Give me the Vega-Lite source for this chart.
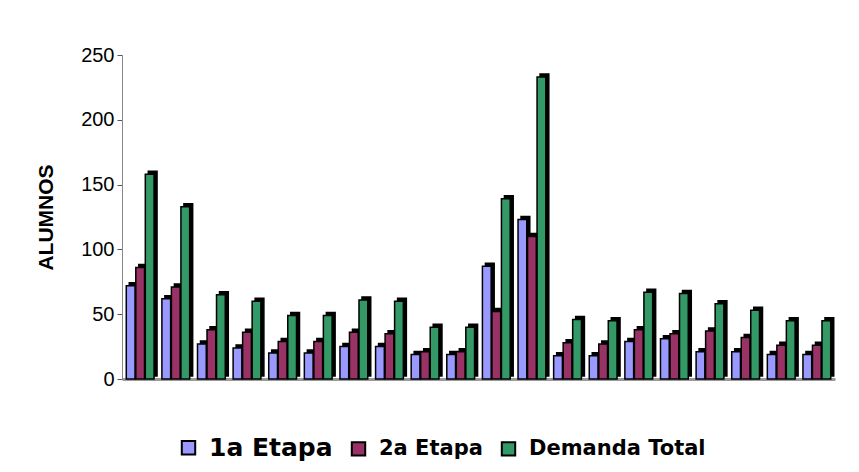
{
  "$schema": "https://vega.github.io/schema/vega-lite/v6.json",
  "width": 713,
  "height": 324,
  "autosize": {"type": "none"},
  "padding": {"left": 122, "top": 55, "right": 24, "bottom": 93},
  "background": "white",
  "config": {"view": {"stroke": null}},
  "data": {"values": [
    {"g": 1, "serie": "1a Etapa", "v": 72}, {"g": 1, "serie": "2a Etapa", "v": 86}, {"g": 1, "serie": "Demanda Total", "v": 158},
    {"g": 2, "serie": "1a Etapa", "v": 62}, {"g": 2, "serie": "2a Etapa", "v": 71}, {"g": 2, "serie": "Demanda Total", "v": 133},
    {"g": 3, "serie": "1a Etapa", "v": 27}, {"g": 3, "serie": "2a Etapa", "v": 38}, {"g": 3, "serie": "Demanda Total", "v": 65},
    {"g": 4, "serie": "1a Etapa", "v": 24}, {"g": 4, "serie": "2a Etapa", "v": 36}, {"g": 4, "serie": "Demanda Total", "v": 60},
    {"g": 5, "serie": "1a Etapa", "v": 20}, {"g": 5, "serie": "2a Etapa", "v": 29}, {"g": 5, "serie": "Demanda Total", "v": 49},
    {"g": 6, "serie": "1a Etapa", "v": 20}, {"g": 6, "serie": "2a Etapa", "v": 29}, {"g": 6, "serie": "Demanda Total", "v": 49},
    {"g": 7, "serie": "1a Etapa", "v": 25}, {"g": 7, "serie": "2a Etapa", "v": 36}, {"g": 7, "serie": "Demanda Total", "v": 61},
    {"g": 8, "serie": "1a Etapa", "v": 25}, {"g": 8, "serie": "2a Etapa", "v": 35}, {"g": 8, "serie": "Demanda Total", "v": 60},
    {"g": 9, "serie": "1a Etapa", "v": 19}, {"g": 9, "serie": "2a Etapa", "v": 21}, {"g": 9, "serie": "Demanda Total", "v": 40},
    {"g": 10, "serie": "1a Etapa", "v": 19}, {"g": 10, "serie": "2a Etapa", "v": 21}, {"g": 10, "serie": "Demanda Total", "v": 40},
    {"g": 11, "serie": "1a Etapa", "v": 87}, {"g": 11, "serie": "2a Etapa", "v": 52}, {"g": 11, "serie": "Demanda Total", "v": 139},
    {"g": 12, "serie": "1a Etapa", "v": 123}, {"g": 12, "serie": "2a Etapa", "v": 110}, {"g": 12, "serie": "Demanda Total", "v": 233},
    {"g": 13, "serie": "1a Etapa", "v": 18}, {"g": 13, "serie": "2a Etapa", "v": 28}, {"g": 13, "serie": "Demanda Total", "v": 46},
    {"g": 14, "serie": "1a Etapa", "v": 18}, {"g": 14, "serie": "2a Etapa", "v": 27}, {"g": 14, "serie": "Demanda Total", "v": 45},
    {"g": 15, "serie": "1a Etapa", "v": 29}, {"g": 15, "serie": "2a Etapa", "v": 38}, {"g": 15, "serie": "Demanda Total", "v": 67},
    {"g": 16, "serie": "1a Etapa", "v": 31}, {"g": 16, "serie": "2a Etapa", "v": 35}, {"g": 16, "serie": "Demanda Total", "v": 66},
    {"g": 17, "serie": "1a Etapa", "v": 21}, {"g": 17, "serie": "2a Etapa", "v": 37}, {"g": 17, "serie": "Demanda Total", "v": 58},
    {"g": 18, "serie": "1a Etapa", "v": 21}, {"g": 18, "serie": "2a Etapa", "v": 32}, {"g": 18, "serie": "Demanda Total", "v": 53},
    {"g": 19, "serie": "1a Etapa", "v": 19}, {"g": 19, "serie": "2a Etapa", "v": 26}, {"g": 19, "serie": "Demanda Total", "v": 45},
    {"g": 20, "serie": "1a Etapa", "v": 19}, {"g": 20, "serie": "2a Etapa", "v": 26}, {"g": 20, "serie": "Demanda Total", "v": 45}
  ]},
  "encoding": {
    "x": {"field": "g", "type": "ordinal", "scale": {"paddingInner": 0.22, "paddingOuter": 0.12},
      "axis": {"labels": false, "ticks": false, "title": null, "domainColor": "#9a9a9a", "domainWidth": 3}},
    "y": {"field": "v", "type": "quantitative", "scale": {"domain": [0, 250]},
      "axis": {"values": [0, 50, 100, 150, 200, 250], "grid": false, "title": "ALUMNOS",
        "titleFont": "Liberation Sans", "titleFontSize": 21, "titleFontWeight": "bold", "titleColor": "black", "titlePadding": 24,
        "labelFont": "Liberation Sans", "labelFontSize": 20, "labelColor": "black", "labelPadding": 3,
        "tickSize": 5, "tickColor": "#555", "domainColor": "#888"}}
  },
  "resolve": {"scale": {"xOffset": "independent"}},
  "layer": [
    {"mark": {"type": "bar", "color": "black", "stroke": "black", "strokeWidth": 1.5, "yOffset": -3, "y2Offset": -3},
      "encoding": {"xOffset": {"field": "serie", "type": "nominal", "scale": {"paddingInner": 0.08, "paddingOuter": 0, "range": [3, 30.78]}}}},
    {"mark": {"type": "bar", "stroke": "black", "strokeWidth": 1.5},
      "encoding": {
        "xOffset": {"field": "serie", "type": "nominal", "scale": {"paddingInner": 0.08, "paddingOuter": 0, "range": [0, 27.78]}},
        "color": {"field": "serie", "type": "nominal",
        "scale": {"domain": ["1a Etapa", "2a Etapa", "Demanda Total"], "range": ["#9999FF", "#993366", "#339966"]},
        "legend": {"title": null, "orient": "none", "direction": "horizontal", "legendX": 56, "legendY": 382,
          "symbolType": "square", "symbolSize": 180, "symbolStrokeColor": "black", "symbolStrokeWidth": 2, "symbolOpacity": 1,
          "labelFont": "DejaVu Sans", "labelFontWeight": "bold", "labelFontSize": 21, "labelColor": "black", "labelLimit": 0,
          "columnPadding": 14, "labelOffset": 10,
          "encode": {
            "symbols": {
              "enter": {"stroke": {"value": "black"}, "strokeWidth": {"value": 2}},
              "update": {"stroke": {"value": "black"}, "strokeWidth": {"value": 2}, "opacity": {"value": 1}}},
            "labels": {"update": {"fontSize": {"signal": "datum.value === '1a Etapa' ? 25 : 21"}}}}}}}}
  ]
}
